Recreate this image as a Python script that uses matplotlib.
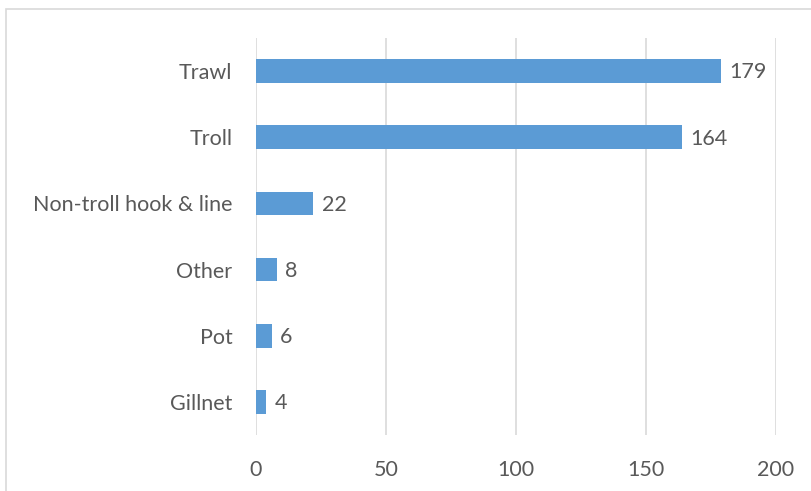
import matplotlib.pyplot as plt
from matplotlib.patches import Rectangle

categories = ['Trawl', 'Troll', 'Non-troll hook & line', 'Other', 'Pot', 'Gillnet']
values = [179, 164, 22, 8, 6, 4]
xticks = [0, 50, 100, 150, 200]

text_color = '#595959'
plt.rcParams['font.family'] = ['Lato', 'DejaVu Sans']

fig = plt.figure(figsize=(8.11, 4.91), dpi=100)
ax = fig.add_axes([256 / 811, 1 - 435 / 491, 520 / 811, 397 / 491])

# outer chart border (runs off the right and bottom edges)
fig.patches.append(Rectangle((6 / 811, -0.1), 1.2, 1 - 9 / 491 + 0.1,
                             transform=fig.transFigure, fill=False,
                             edgecolor='#d9d9d9', lw=1.2))

y = list(range(len(categories)))
bars = ax.barh(y, values, height=0.36, color='#5B9BD5', zorder=3)
for b, v in zip(bars, values):
    ax.annotate(str(v), (b.get_width(), b.get_y() + b.get_height() / 2),
                xytext=(6, -1), textcoords='offset points',
                va='center', ha='left', fontsize=15.5, color=text_color)

ax.set_ylim(len(categories) - 0.5, -0.5)
ax.set_xlim(0, 200)
ax.set_yticks(y)
ax.set_yticklabels(categories, fontsize=15.5, color=text_color)
ax.set_xticks(xticks)
ax.set_xticklabels([str(t) for t in xticks], fontsize=15.5, color=text_color)
ax.tick_params(axis='both', length=0)
ax.tick_params(axis='y', pad=17)
ax.tick_params(axis='x', pad=18)
ax.grid(axis='x', color='#d9d9d9', lw=1.2, zorder=0)
for s in ax.spines.values():
    s.set_visible(False)

fig.savefig('out.png', dpi=100)
